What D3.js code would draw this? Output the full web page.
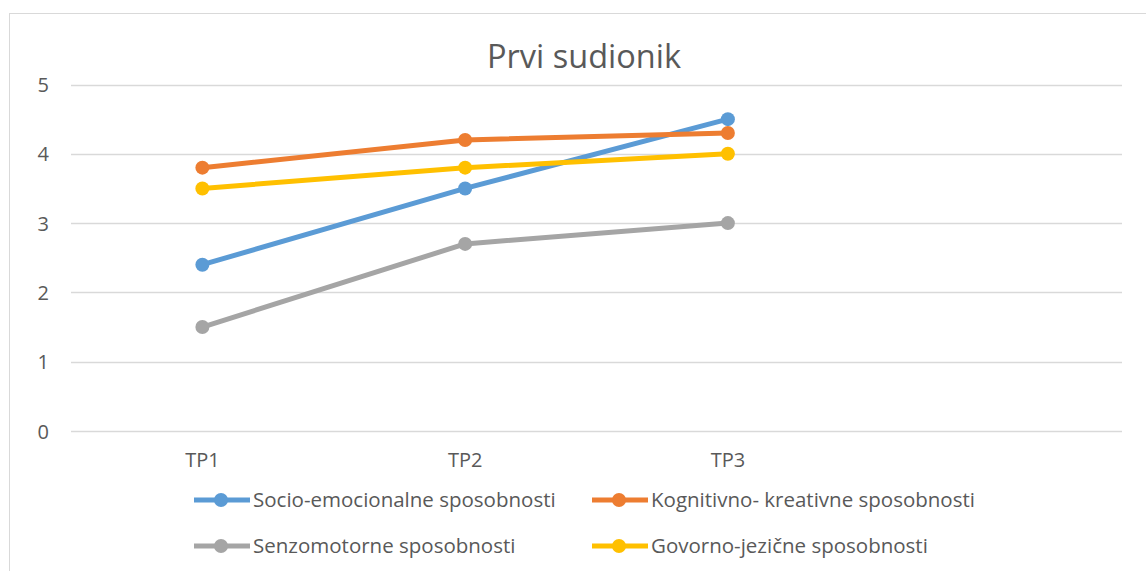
<!DOCTYPE html>
<html>
<head>
<meta charset="utf-8">
<script src="https://cdn.jsdelivr.net/npm/d3@7"></script>
<style>
	body { margin: 0; background: #fff; }
	text { font-family: "Open Sans", "Noto Sans", sans-serif; fill: #595959; }
</style>
</head>
<body>
<div id="chart"></div>
<script>
// categories (the fourth slot is empty, like in the original sheet)
const categories = ["TP1", "TP2", "TP3", ""];
const yTicks = [0, 1, 2, 3, 4, 5];

const seriesNames = [
	"Socio-emocionalne sposobnosti",
	"Kognitivno- kreativne sposobnosti",
	"Senzomotorne sposobnosti",
	"Govorno-jezične sposobnosti"
];
const socioValues = [2.4, 3.5, 4.5];
const kognitivnoValues = [3.8, 4.2, 4.3];
const senzoValues = [1.5, 2.7, 3.0];
const govornoValues = [3.5, 3.8, 4.0];

const COLORS = ["#5B9BD5", "#ED7D31", "#A5A5A5", "#FFC000"];

let series = [socioValues, kognitivnoValues, senzoValues, govornoValues].map(function (vals, i) {
	return {
		name: seriesNames[i],
		color: COLORS[i],
		points: vals.map(function (v, j) { return { cat: categories[j], value: v }; })
	};
});

let width = 1146, height = 571;
let plot = { left: 71, right: 1122, top: 84.5, bottom: 431 };

let svg = d3.select("#chart")
	.append("svg")
	.attr("width", width)
	.attr("height", height);

// chart frame
svg.append("rect")
	.attr("x", 9.5).attr("y", 13.5)
	.attr("width", 1146).attr("height", 600)
	.attr("fill", "none")
	.attr("stroke", "#D9D9D9");

let x = d3.scaleBand()
	.domain(categories)
	.range([plot.left, plot.right]);

let y = d3.scaleLinear()
	.domain([0, 5])
	.range([plot.bottom, plot.top]);

// gridlines
svg.append("g")
	.selectAll("line")
	.data(yTicks)
	.enter().append("line")
	.attr("x1", plot.left).attr("x2", plot.right)
	.attr("y1", function (d) { return Math.round(y(d)) + 0.5; })
	.attr("y2", function (d) { return Math.round(y(d)) + 0.5; })
	.attr("stroke", "#D9D9D9")
	.attr("stroke-width", 1.5);

// y axis labels
let yAxis = svg.append("g")
	.attr("transform", "translate(" + (plot.left - 22) + ",0)")
	.call(d3.axisLeft(y).tickValues(yTicks).tickSize(0).tickFormat(d3.format("d")));
yAxis.select(".domain").remove();
yAxis.selectAll("text")
	.style("font-size", "20px")
	.attr("dy", "0.35em")
	.attr("x", 0);

// x axis labels
let xAxis = svg.append("g")
	.attr("transform", "translate(0," + (plot.bottom + 19) + ")")
	.call(d3.axisBottom(x).tickSize(0));
xAxis.select(".domain").remove();
xAxis.selectAll("text")
	.style("font-size", "20px")
	.attr("dy", "0.7em");

// title
svg.append("text")
	.attr("x", 584)
	.attr("y", 68)
	.attr("text-anchor", "middle")
	.style("font-size", "32.5px")
	.text("Prvi sudionik");

let line = d3.line()
	.x(function (d) { return x(d.cat) + x.bandwidth() / 2; })
	.y(function (d) { return y(d.value); });

let groups = svg.selectAll(".series")
	.data(series)
	.enter().append("g")
	.attr("class", "series");

groups.append("path")
	.attr("d", function (d) { return line(d.points); })
	.attr("fill", "none")
	.attr("stroke", function (d) { return d.color; })
	.attr("stroke-width", 5)
	.attr("stroke-linejoin", "round");

groups.selectAll("circle")
	.data(function (d) { return d.points.map(function (p) { return { p: p, color: d.color }; }); })
	.enter().append("circle")
	.attr("cx", function (d) { return x(d.p.cat) + x.bandwidth() / 2; })
	.attr("cy", function (d) { return y(d.p.value); })
	.attr("r", 7)
	.attr("fill", function (d) { return d.color; });

// legend
let legendPos = [
	{ x: 194, y: 500 },
	{ x: 592, y: 500 },
	{ x: 194, y: 546 },
	{ x: 592, y: 546 }
];

let legend = svg.selectAll(".legend")
	.data(series)
	.enter().append("g")
	.attr("class", "legend")
	.attr("transform", function (d, i) { return "translate(" + legendPos[i].x + "," + legendPos[i].y + ")"; });

legend.append("line")
	.attr("x1", 0).attr("x2", 56)
	.attr("y1", 0).attr("y2", 0)
	.attr("stroke", function (d) { return d.color; })
	.attr("stroke-width", 5);

legend.append("circle")
	.attr("cx", 27).attr("cy", 0).attr("r", 7)
	.attr("fill", function (d) { return d.color; });

legend.append("text")
	.attr("x", 59)
	.attr("dy", "0.35em")
	.style("font-size", "20.5px")
	.text(function (d) { return d.name; });
</script>
</body>
</html>
